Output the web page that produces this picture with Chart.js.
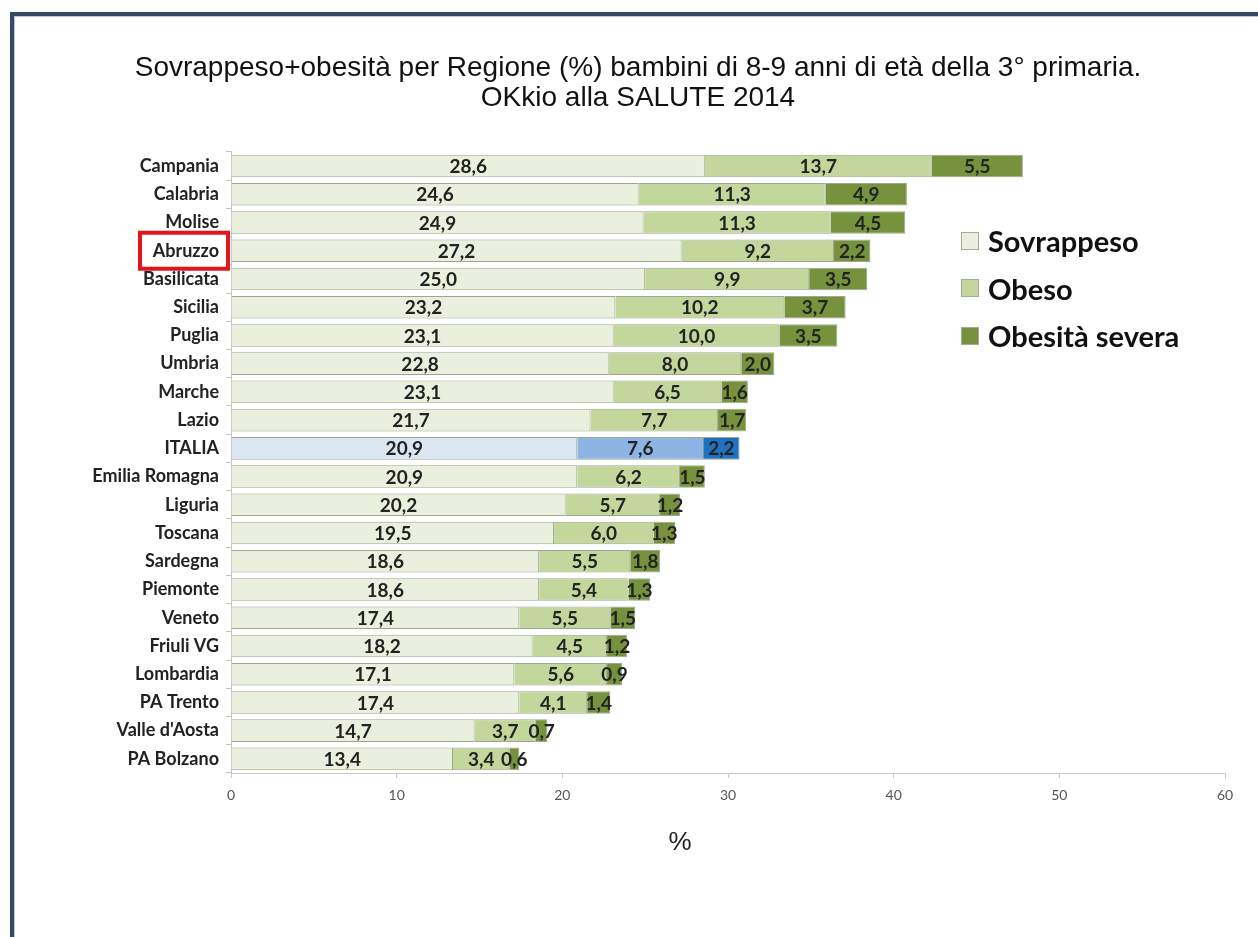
<!DOCTYPE html>
<html>
<head>
<meta charset="utf-8">
<script src="https://cdn.jsdelivr.net/npm/chart.js@4/dist/chart.umd.min.js"></script>
<style>
  body { margin: 0; background: #fff; }
  #wrap { position: relative; width: 1258px; height: 937px; overflow: hidden; background: #fff; }
  #frame {
    position: absolute; left: 10px; top: 12px; width: 1400px; height: 1100px;
    border-top: 4px solid #3a4766; border-left: 4px solid #3a4766;
    box-shadow: inset 1px 1px 0 #b9c6dc; pointer-events: none;
  }
  #legend { position: absolute; left: 961px; top: 217px; font-family: Lato, sans-serif; }
  .item { display: flex; align-items: center; height: 47.5px; font-weight: bold; font-size: 29px; color: #111; }
  .box { width: 18px; height: 18px; margin-right: 9px; box-sizing: border-box; border: 1px solid #a5ab98; }
</style>
</head>
<body>
<div id="wrap">
  <canvas id="chart" width="1258" height="937"></canvas>
  <div id="frame"></div>
  <div id="legend"></div>
</div>
<script>
const regions = ["Campania", "Calabria", "Molise", "Abruzzo", "Basilicata", "Sicilia", "Puglia",
  "Umbria", "Marche", "Lazio", "ITALIA", "Emilia Romagna", "Liguria", "Toscana", "Sardegna",
  "Piemonte", "Veneto", "Friuli VG", "Lombardia", "PA Trento", "Valle d'Aosta", "PA Bolzano"];
const sovrappeso = [28.6, 24.6, 24.9, 27.2, 25.0, 23.2, 23.1, 22.8, 23.1, 21.7, 20.9, 20.9, 20.2, 19.5,
  18.6, 18.6, 17.4, 18.2, 17.1, 17.4, 14.7, 13.4];
const obeso = [13.7, 11.3, 11.3, 9.2, 9.9, 10.2, 10.0, 8.0, 6.5, 7.7, 7.6, 6.2, 5.7, 6.0,
  5.5, 5.4, 5.5, 4.5, 5.6, 4.1, 3.7, 3.4];
const obesitaSevera = [5.5, 4.9, 4.5, 2.2, 3.5, 3.7, 3.5, 2.0, 1.6, 1.7, 2.2, 1.5, 1.2, 1.3,
  1.8, 1.3, 1.5, 1.2, 0.9, 1.4, 0.7, 0.6];
const xTicks = [0, 10, 20, 30, 40, 50, 60];

const italiaIdx = regions.indexOf("ITALIA");
const markedIdx = regions.indexOf("Abruzzo");

// green for regions, blue for the national value
function colorFor(green, blue) {
  return (ctx) => (ctx.dataIndex === italiaIdx ? blue : green);
}

const fmt = (v) => v.toFixed(1).replace(".", ",");

// writes the value in the middle of every segment
const valueLabels = {
  id: "valueLabels",
  afterDatasetsDraw(chart) {
    const c = chart.ctx;
    c.save();
    c.font = "bold 19px Lato";
    c.fillStyle = "#222";
    c.textAlign = "center";
    c.textBaseline = "middle";
    chart.data.datasets.forEach((ds, i) => {
      chart.getDatasetMeta(i).data.forEach((bar, j) => {
        c.fillText(fmt(ds.data[j]), (bar.x + bar.base) / 2, bar.y + 1);
      });
    });
    c.restore();
  },
};

// red box round Abruzzo and the "%" under the axis
const extras = {
  id: "extras",
  afterDraw(chart) {
    const c = chart.ctx;
    const area = chart.chartArea;
    const y = chart.scales.y.getPixelForValue(markedIdx);
    c.save();
    c.strokeStyle = "#e3141c";
    c.lineWidth = 4;
    c.strokeRect(area.left - 91, y - 18, 88, 36);
    c.font = "26px 'Liberation Sans'";
    c.fillStyle = "#222";
    c.textAlign = "center";
    c.textBaseline = "middle";
    c.fillText("%", 680, 843);
    c.restore();
  },
};

const chart = new Chart(document.getElementById("chart"), {
  type: "bar",
  data: {
    labels: regions,
    datasets: [
      { label: "Sovrappeso", data: sovrappeso,
        backgroundColor: colorFor("#ebf0de", "#dce6f2"), legendColor: "#ebf0de" },
      { label: "Obeso", data: obeso,
        backgroundColor: colorFor("#c3d69b", "#8eb4e3"), legendColor: "#c3d69b" },
      { label: "Obesità severa", data: obesitaSevera,
        backgroundColor: colorFor("#76923c", "#1f72c0"), legendColor: "#76923c" },
    ],
  },
  options: {
    indexAxis: "y",
    responsive: false,
    animation: false,
    layout: { padding: { left: 51, right: 33, top: 0, bottom: 124 } },
    datasets: {
      bar: {
        barPercentage: 0.8,
        categoryPercentage: 1,
        borderWidth: 1,
        borderColor: "#9fa592",
      },
    },
    scales: {
      x: {
        stacked: true,
        min: 0,
        max: 60,
        afterBuildTicks: (scale) => { scale.ticks = xTicks.map((v) => ({ value: v })); },
        afterFit: (scale) => { scale.height = 40; },
        grid: { drawOnChartArea: false, tickLength: 5, color: "#c8c8c8" },
        border: { color: "#c8c8c8" },
        ticks: { padding: 9, color: "#555", font: { family: "Lato", size: 14 } },
      },
      y: {
        stacked: true,
        afterFit: (scale) => { scale.width = 180; },
        grid: { drawOnChartArea: false, offset: true, tickLength: 5, color: "#c4c4c4" },
        border: { color: "#c4c4c4" },
        ticks: { padding: 7, color: "#222", font: { family: "Lato", size: 18, weight: "bold" } },
      },
    },
    plugins: {
      legend: { display: false },
      tooltip: { enabled: false },
      title: {
        display: true,
        text: [
          "Sovrappeso+obesità per Regione (%) bambini di 8-9 anni di età della 3° primaria.",
          "OKkio alla SALUTE 2014",
        ],
        color: "#111",
        font: { family: "Liberation Sans", size: 28, weight: "normal", lineHeight: 1.07 },
        padding: { top: 53, bottom: 39 },
      },
    },
  },
  plugins: [valueLabels, extras],
});

// legend next to the bars
const legend = document.getElementById("legend");
chart.data.datasets.forEach((ds) => {
  const item = document.createElement("div");
  item.className = "item";
  const box = document.createElement("span");
  box.className = "box";
  box.style.background = ds.legendColor;
  item.appendChild(box);
  item.appendChild(document.createTextNode(ds.label));
  legend.appendChild(item);
});
</script>
</body>
</html>
